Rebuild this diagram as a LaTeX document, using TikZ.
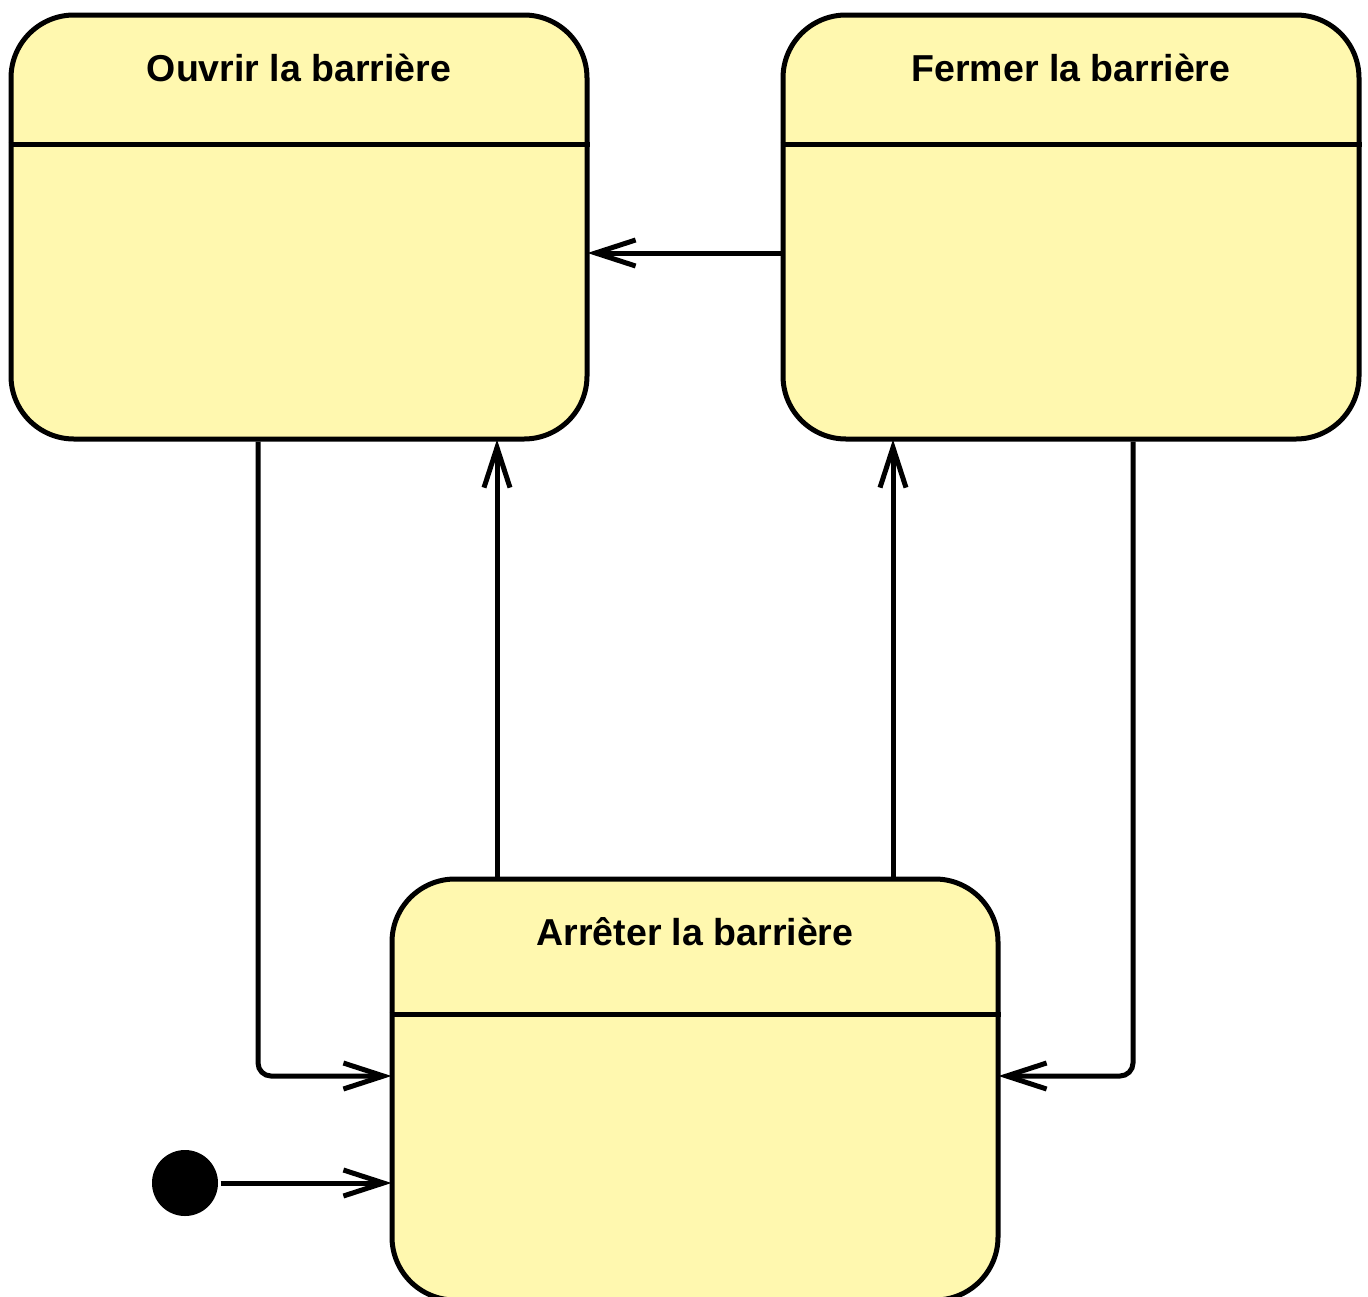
\documentclass[tikz,border=0pt]{standalone}
\usepackage{fontspec}
\setmainfont{Liberation Sans}
\usetikzlibrary{arrows.meta,positioning}
\definecolor{statefill}{RGB}{255,248,175}

\begin{document}
\begin{tikzpicture}[x=1pt,y=-1pt,line width=5pt,
    state/.style={draw,fill=statefill,rounded corners=63pt,inner sep=0pt,
      minimum width=#1},
    title/.style={anchor=base,font=\fontsize{37.5}{45}\selectfont\bfseries},
    trans/.style={-{Straight Barb[length=40pt,width=26pt,line width=5pt]},
      shorten >=-2pt,rounded corners=13pt}]
  \useasboundingbox (0,0) rectangle (1368,1296);
  % States
  \node[state=576pt,minimum height=424pt] (ouvrir) at (299,227) {};
  \node[state=576pt,minimum height=424pt] (fermer) at (1071,227) {};
  \node[state=606pt,minimum height=421pt] (arreter) at (695,1089.5) {};
  % Compartment lines
  \draw (ouvrir.west |- 0,144) -- (ouvrir.east |- 0,144);
  \draw (fermer.west |- 0,144) -- (fermer.east |- 0,144);
  \draw (arreter.west |- 0,1014) -- (arreter.east |- 0,1014);
  % Titles
  \node[title] (ouvrir-t) at (299,81) {Ouvrir la barrière};
  \node[title] (fermer-t) at (1071,81) {Fermer la barrière};
  \node[title] (arreter-t) at (695,945) {Arrêter la barrière};
  % Initial state
  \node[circle,fill=black,minimum size=66pt,inner sep=0pt] (init) at (185,1183) {};
  % Transitions
  \draw[trans] (fermer.west |- 0,253) -- (ouvrir.east |- 0,253);
  \draw[trans] (ouvrir.south -| 258,0) |- (arreter.west |- 0,1076);
  \draw[trans] (arreter.north -| 497,0) -- (ouvrir.south -| 497,0);
  \draw[trans] (arreter.north -| 893,0) -- (fermer.south -| 893,0);
  \draw[trans] (fermer.south -| 1133,0) |- (arreter.east |- 0,1076);
  \draw[trans] (init) -- (arreter.west |- init);
\end{tikzpicture}
\end{document}
